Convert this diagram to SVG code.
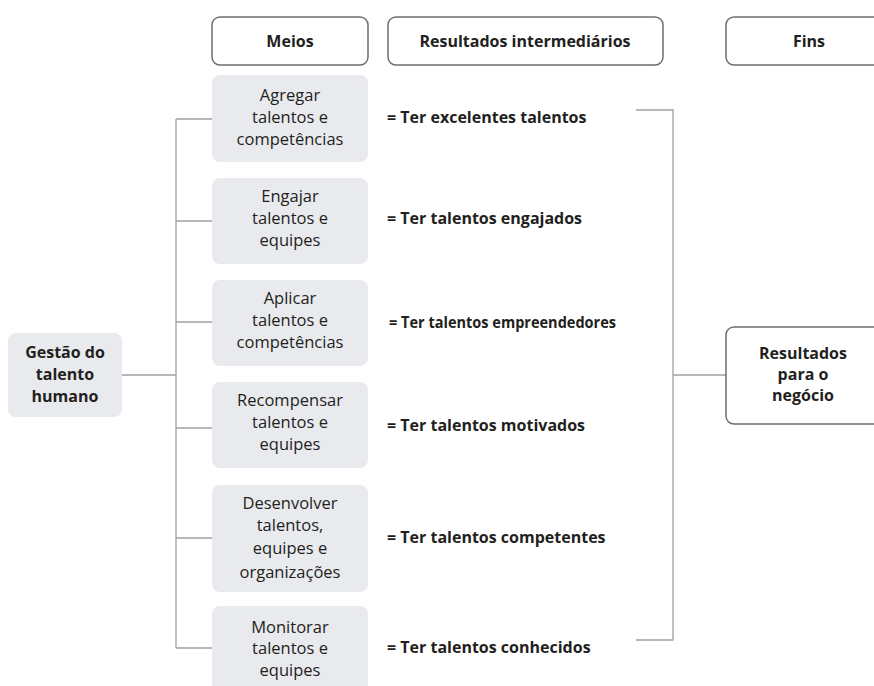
<svg xmlns="http://www.w3.org/2000/svg" width="874" height="686" viewBox="0 0 874 686">
<style>
.hdr{fill:#fff;stroke:#6d6e70;stroke-width:1.5}
.box{fill:#e9eaee;stroke:none}
.t{font-family:"Open Sans","Liberation Sans",sans-serif;font-size:16.5px;fill:#231f20;text-anchor:middle}
.b{font-family:"Open Sans","Liberation Sans",sans-serif;font-size:16px;font-weight:bold;fill:#231f20}
.bc{text-anchor:middle}
.ln{fill:none;stroke:#a0a0a0;stroke-width:1.3}
</style>
<rect width="874" height="686" fill="#fff"/>
<g id="connectors">
<path class="ln" d="M122,375H176M176,119V648M176,119H212M176,221H212M176,322H212M176,428H212M176,538H212M176,648H212"/>
<path class="ln" d="M636,110H673V640H636M673,375H726"/>
</g>
<g id="h-meios"><rect class="hdr" x="212" y="17" width="156" height="48" rx="8"/><text class="b bc" x="290" y="47">Meios</text></g>
<g id="h-resultados"><rect class="hdr" x="388" y="17" width="275" height="48" rx="8"/><text class="b bc" x="525" y="47">Resultados intermediários</text></g>
<g id="h-fins"><rect class="hdr" x="726" y="17" width="170" height="48" rx="8"/><text class="b bc" x="809" y="47">Fins</text></g>
<g id="gestao"><rect class="box" x="8" y="333" width="114" height="84" rx="8"/>
<text class="b bc" x="65" y="358">Gestão do</text><text class="b bc" x="65" y="380">talento</text><text class="b bc" x="65" y="402">humano</text></g>
<g id="n1"><rect class="box" x="212" y="75" width="156" height="87" rx="8"/>
<text class="t" x="290" y="101">Agregar</text><text class="t" x="290" y="123">talentos e</text><text class="t" x="290" y="145">competências</text></g>
<g id="n2"><rect class="box" x="212" y="178" width="156" height="86" rx="8"/>
<text class="t" x="290" y="202">Engajar</text><text class="t" x="290" y="224">talentos e</text><text class="t" x="290" y="246">equipes</text></g>
<g id="n3"><rect class="box" x="212" y="280" width="156" height="86" rx="8"/>
<text class="t" x="290" y="304">Aplicar</text><text class="t" x="290" y="326">talentos e</text><text class="t" x="290" y="348">competências</text></g>
<g id="n4"><rect class="box" x="212" y="382" width="156" height="86" rx="8"/>
<text class="t" x="290" y="406">Recompensar</text><text class="t" x="290" y="428">talentos e</text><text class="t" x="290" y="450">equipes</text></g>
<g id="n5"><rect class="box" x="212" y="485" width="156" height="107" rx="8"/>
<text class="t" x="290" y="509">Desenvolver</text><text class="t" x="290" y="531">talentos,</text><text class="t" x="290" y="554">equipes e</text><text class="t" x="290" y="578">organizações</text></g>
<g id="n6"><rect class="box" x="212" y="606" width="156" height="90" rx="8"/>
<text class="t" x="290" y="633">Monitorar</text><text class="t" x="290" y="654">talentos e</text><text class="t" x="290" y="676">equipes</text></g>
<g id="r1"><text class="b" x="387" y="123">= Ter excelentes talentos</text></g>
<g id="r2"><text class="b" x="387" y="224">= Ter talentos engajados</text></g>
<g id="r3"><text class="b" x="389" y="328" textLength="227" lengthAdjust="spacingAndGlyphs">= Ter talentos empreendedores</text></g>
<g id="r4"><text class="b" x="387" y="431">= Ter talentos motivados</text></g>
<g id="r5"><text class="b" x="387" y="543">= Ter talentos competentes</text></g>
<g id="r6"><text class="b" x="387" y="653">= Ter talentos conhecidos</text></g>
<g id="resultado"><rect class="hdr" x="726" y="327" width="170" height="97" rx="8"/>
<text class="b bc" x="803" y="359">Resultados</text><text class="b bc" x="803" y="380">para o</text><text class="b bc" x="803" y="401">negócio</text></g>
</svg>
